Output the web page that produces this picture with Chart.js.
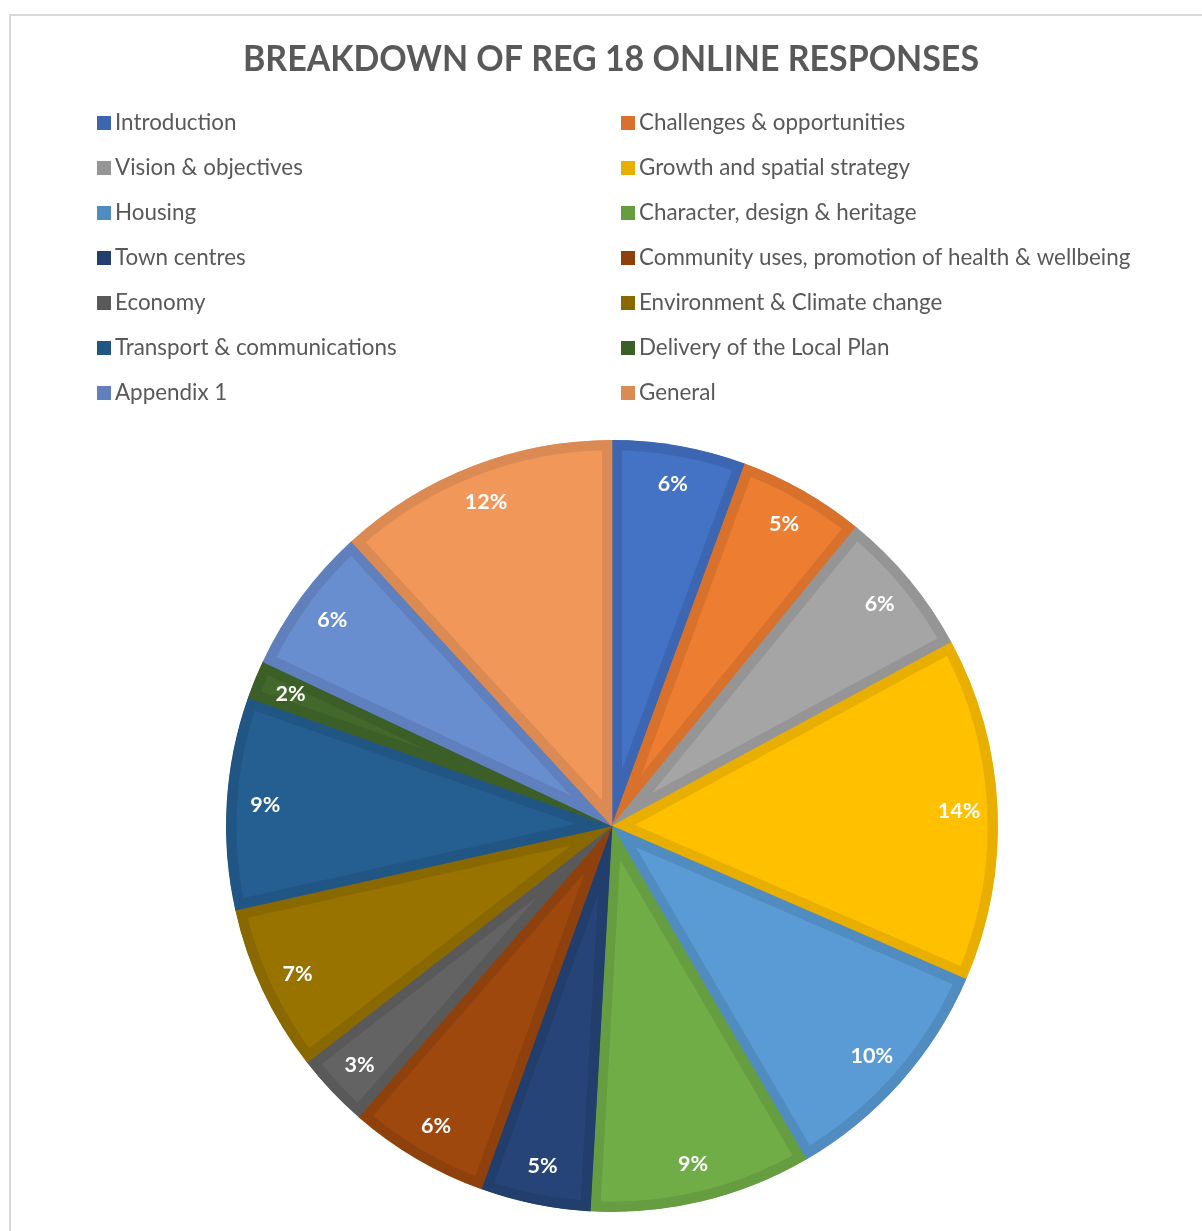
<!DOCTYPE html>
<html>
<head>
<meta charset="utf-8">
<script src="https://cdn.jsdelivr.net/npm/chart.js@4"></script>
<style>
  html, body { margin: 0; padding: 0; background: #ffffff; }
  #wrap { position: relative; width: 1202px; height: 1231px; }
</style>
</head>
<body>
<div id="wrap"><canvas id="c" width="1202" height="1231"></canvas></div>
<script>
const chartTitle = 'BREAKDOWN OF REG 18 ONLINE RESPONSES';
const categories = [
  'Introduction', 'Challenges & opportunities', 'Vision & objectives',
  'Growth and spatial strategy', 'Housing', 'Character, design & heritage',
  'Town centres', 'Community uses, promotion of health & wellbeing', 'Economy',
  'Environment & Climate change', 'Transport & communications',
  'Delivery of the Local Plan', 'Appendix 1', 'General'
];
// share of responses (%)
const shares = [5.6, 5.3, 6.2, 14.4, 10.1, 9.3, 4.6, 5.9, 3.1, 7.0, 8.9, 1.6, 6.2, 11.8];

const fillColors = ['#4472C4', '#ED7D31', '#A5A5A5', '#FFC000', '#5B9BD5', '#70AD47',
  '#264478', '#9E480E', '#636363', '#997300', '#255E91', '#43682B', '#698ED0', '#F1975A'];
const edgeColors = ['#3C66B2', '#D8712C', '#959595', '#E8AE00', '#518CC1', '#659D40',
  '#213E6C', '#8E410C', '#595959', '#8A6800', '#215584', '#3C5E27', '#5F80BC', '#DC8A53'];

const TEXT_GREY = '#595959';

const framePlugin = {
  id: 'frame',
  beforeDraw(chart) {
    const ctx = chart.ctx;
    ctx.save();
    ctx.fillStyle = '#ffffff';
    ctx.fillRect(0, 0, chart.width, chart.height);
    ctx.strokeStyle = '#D9D9D9';
    ctx.lineWidth = 2;
    ctx.beginPath();
    ctx.moveTo(10, chart.height + 5);
    ctx.lineTo(10, 15);
    ctx.lineTo(chart.width + 5, 15);
    ctx.stroke();
    // title
    ctx.fillStyle = TEXT_GREY;
    ctx.font = 'bold 32px Lato';
    ctx.textAlign = 'center';
    ctx.textBaseline = 'alphabetic';
    const tw = ctx.measureText(chartTitle).width;
    const target = 736;
    ctx.translate(611, 71);
    ctx.scale(target / tw, 1.15);
    ctx.fillText(chartTitle, 0, 0);
    ctx.restore();
  }
};

const legendPlugin = {
  id: 'twoColLegend',
  afterDraw(chart) {
    const ctx = chart.ctx;
    const labels = chart.data.labels;
    ctx.save();
    ctx.font = '22.4px Lato';
    ctx.textBaseline = 'middle';
    ctx.textAlign = 'left';
    labels.forEach((lab, i) => {
      const col = i % 2;
      const row = Math.floor(i / 2);
      const bx = col === 0 ? 97 : 621;
      const y = 123 + row * 45;
      ctx.fillStyle = edgeColors[i];
      ctx.fillRect(bx, y - 7, 14, 14);
      ctx.fillStyle = TEXT_GREY;
      ctx.fillText(lab, bx + 18, y);
    });
    ctx.restore();
  }
};

const pctLabelPlugin = {
  id: 'pctLabels',
  afterDatasetsDraw(chart) {
    const ctx = chart.ctx;
    const meta = chart.getDatasetMeta(0);
    const data = chart.data.datasets[0].data;
    const total = data.reduce((a, b) => a + b, 0);
    ctx.save();
    ctx.font = 'bold 21.5px Lato';
    ctx.fillStyle = '#ffffff';
    ctx.textAlign = 'center';
    ctx.textBaseline = 'middle';
    meta.data.forEach((arc, i) => {
      const p = arc.getProps(['x', 'y', 'startAngle', 'endAngle', 'outerRadius'], true);
      const mid = (p.startAngle + p.endAngle) / 2;
      const r = p.outerRadius * 0.9;
      const txt = Math.round(data[i] / total * 100) + '%';
      ctx.fillText(txt, p.x + Math.cos(mid) * r, p.y + Math.sin(mid) * r);
    });
    ctx.restore();
  }
};

new Chart(document.getElementById('c'), {
  type: 'pie',
  data: {
    labels: categories,
    datasets: [{
      data: shares,
      backgroundColor: fillColors,
      borderColor: edgeColors,
      borderWidth: 10,
      borderAlign: 'inner',
      hoverOffset: 0
    }]
  },
  options: {
    responsive: false,
    animation: false,
    events: [],
    layout: { padding: { top: 440, bottom: 19, left: 22, right: 0 } },
    plugins: {
      legend: { display: false },
      title: { display: false },
      tooltip: { enabled: false }
    }
  },
  plugins: [framePlugin, legendPlugin, pctLabelPlugin]
});
</script>
</body>
</html>
